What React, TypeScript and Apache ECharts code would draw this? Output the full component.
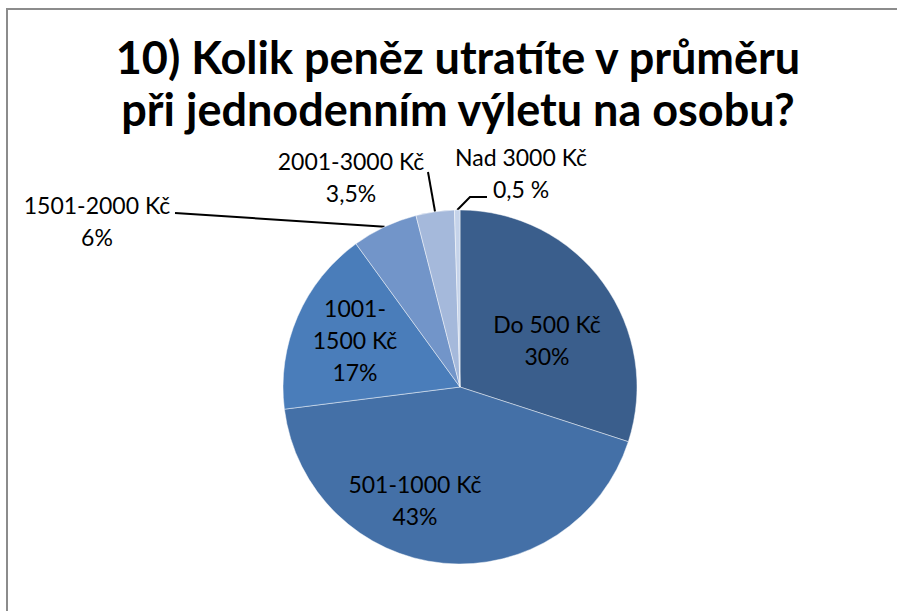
import React, { useEffect, useRef } from "react";
import * as echarts from "echarts";

const titleLines = [
  "10) Kolik peněz utratíte v průměru",
  "při jednodenním výletu na osobu?",
];
const categories = [
  "Do 500 Kč",
  "501-1000 Kč",
  "1001-1500 Kč",
  "1501-2000 Kč",
  "2001-3000 Kč",
  "Nad 3000 Kč",
];
const labelNames = [
  "Do 500 Kč",
  "501-1000 Kč",
  "1001-\n1500 Kč",
  "1501-2000 Kč",
  "2001-3000 Kč",
  "Nad 3000 Kč",
];
const values = [30, 43, 17, 6, 3.5, 0.5];
const percentLabels = ["30%", "43%", "17%", "6%", "3,5%", "0,5 %"];
const colors = ["#3A5E8C", "#4470A7", "#4A7DBA", "#7295C9", "#A5B9DB", "#C5D3EA"];

// label block centres (layout only)
const labelCenters: number[][] = [
  [547, 340],
  [415, 500],
  [355, 340],
  [97, 221],
  [351, 177],
  [521, 173],
];
// leader-line bends / ends for the outside labels (layout only)
const leaderEnds: (number[][] | null)[] = [
  null,
  null,
  null,
  [[175, 213]],
  [[428, 172]],
  [[470, 197], [487, 197]],
];

export default function App() {
  const ref = useRef<HTMLDivElement>(null);
  useEffect(() => {
    if (!ref.current) return;
    const chart = echarts.init(ref.current, null, { renderer: "svg" });
    const font = "Lato";
    chart.setOption({
      animation: false,
      backgroundColor: "#ffffff",
      graphic: [
        {
          type: "rect",
          shape: { x: 7, y: 9, width: 1000, height: 1000 },
          style: { fill: "none", stroke: "#8c8c8c", lineWidth: 2 },
          silent: true,
        },
        {
          type: "text",
          x: 458,
          y: 31,
          style: {
            text: titleLines.join("\n"),
            textAlign: "center",
            textVerticalAlign: "top",
            fontFamily: font,
            fontWeight: "bold",
            fontSize: 45,
            lineHeight: 52,
            fill: "#000000",
          },
        },
      ],
      series: [
        {
          type: "pie",
          center: [460, 387],
          radius: 177,
          startAngle: 90,
          clockwise: true,
          avoidLabelOverlap: false,
          itemStyle: { borderColor: "rgba(255,255,255,0.45)", borderWidth: 1 },
          label: {
            show: true,
            color: "#000000",
            fontFamily: font,
            fontSize: 23,
            lineHeight: 32,
            align: "center",
            formatter: (p: any) =>
              labelNames[p.dataIndex] + "\n" + percentLabels[p.dataIndex],
          },
          labelLine: {
            show: true,
            length: 10,
            length2: 10,
            lineStyle: { color: "#000000", width: 2 },
          },
          labelLayout: (p: any) => {
            const i = p.dataIndex;
            const c = labelCenters[i];
            const res: any = {
              x: c[0],
              y: c[1],
              align: "center",
              verticalAlign: "middle",
            };
            const ends = leaderEnds[i];
            if (ends && p.labelLinePoints) {
              const start = p.labelLinePoints[0];
              const pts = [start, ...ends];
              if (pts.length < 3) pts.push(ends[ends.length - 1]);
              res.labelLinePoints = pts;
            }
            return res;
          },
          data: categories.map((name, i) => ({
            name,
            value: values[i],
            itemStyle: { color: colors[i] },
            label: { position: i < 3 ? "inside" : "outside" },
            labelLine: { show: i >= 3 },
          })),
        },
      ],
    });
    return () => chart.dispose();
  }, []);
  return (
    <div
      ref={ref}
      style={{ position: "fixed", left: 0, top: 0, width: 897, height: 611 }}
    />
  );
}
